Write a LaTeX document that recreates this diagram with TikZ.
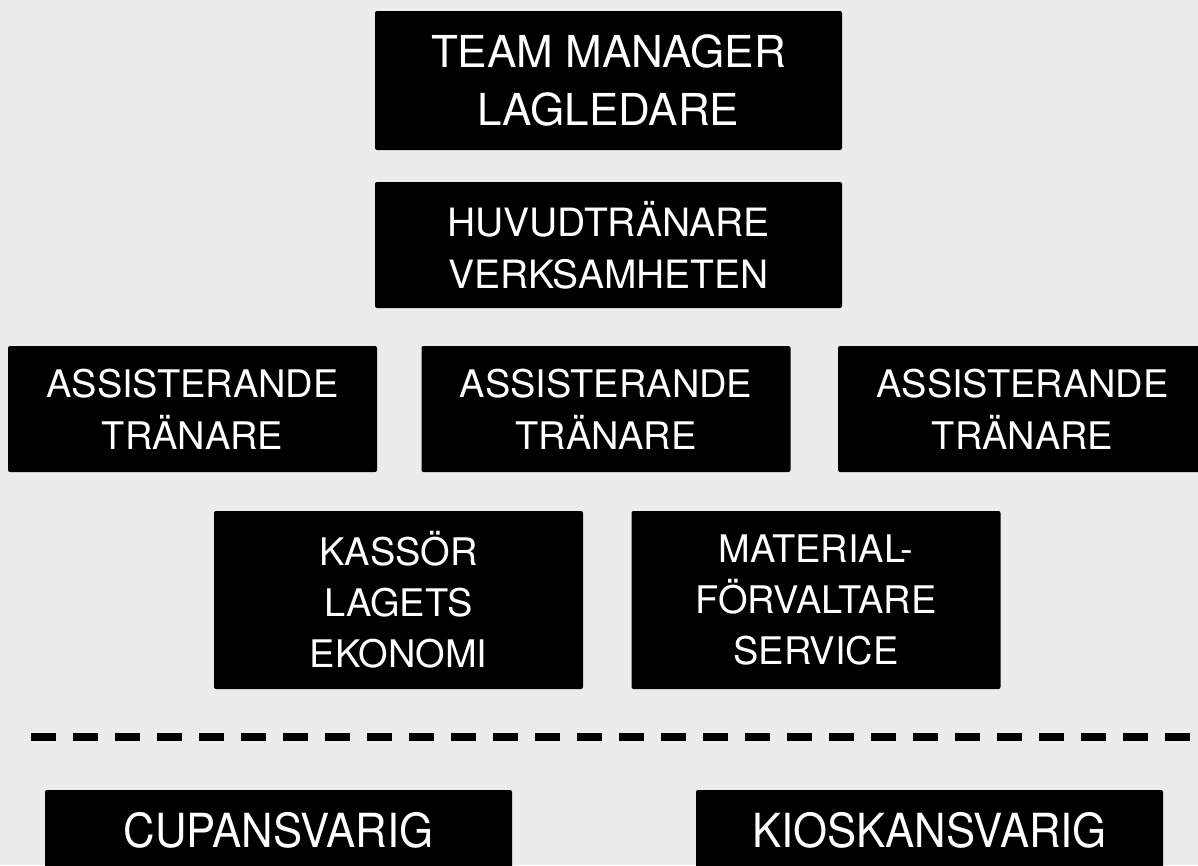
\documentclass[tikz,border=0pt]{standalone}
\usepackage{fontspec}
\setmainfont{TeX Gyre Heros}
\newfontfamily\narrowfont[FakeStretch=0.93]{TeX Gyre Heros}
\definecolor{icecol}{RGB}{236,236,236}
\tikzset{
  rolebox/.style={fill=black, text=white, rounded corners=2pt, align=center, inner sep=0pt},
  midbox/.style={rolebox, minimum width=369pt, font=\fontsize{38}{52}\selectfont},
  widebox/.style={rolebox, minimum width=467pt},
}

\begin{document}
\begin{tikzpicture}[x=1pt, y=-1pt]

        % Background
        \fill[icecol] (0,0) rectangle (1198,865);
        \useasboundingbox (0,0) rectangle (1198,865);
        \clip (0,0) rectangle (1198,865);

        % Leadership
        \node[widebox, minimum height=139pt, font=\fontsize{44}{58}\selectfont] (tm) at (608.5,80.5) {TEAM MANAGER\\LAGLEDARE};
        \node[widebox, minimum height=126pt, font=\fontsize{39}{52}\selectfont] (hc) at (608.5,245) {HUVUDTRÄNARE\\VERKSAMHETEN};

        % Assistant coaches
        \node[midbox, minimum height=126pt] (ac1) at (192.5,409) {ASSISTERANDE\\TRÄNARE};
        \node[midbox, minimum height=126pt] (ac2) at (606,409) {ASSISTERANDE\\TRÄNARE};
        \node[midbox, minimum height=126pt] (ac3) at (1022.5,409) {ASSISTERANDE\\TRÄNARE};

        % Treasurer and equipment
        \node[midbox, minimum height=178pt, font=\fontsize{38}{51}\selectfont] (kas) at (398.5,600) {KASSÖR\\LAGETS\\EKONOMI};
        \node[midbox, minimum height=178pt, font=\fontsize{38}{51}\selectfont] (mat) at (816,600) {MATERIAL-\\FÖRVALTARE\\SERVICE};

        % Dashed divider
        \coordinate (dl) at (31,737);
        \coordinate (dr) at (1198,737);
        \draw[line width=8pt, dash pattern=on 25pt off 17pt] (dl) -- (dr);

        % Cup and kiosk
        \node[widebox, minimum height=80pt, font=\narrowfont\fontsize{47}{56}\selectfont] (cup) at (278.5,830) {CUPANSVARIG};
        \node[widebox, minimum height=80pt, font=\narrowfont\fontsize{47}{56}\selectfont] (kio) at (929.5,830) {KIOSKANSVARIG};

    \end{tikzpicture}
\end{document}
